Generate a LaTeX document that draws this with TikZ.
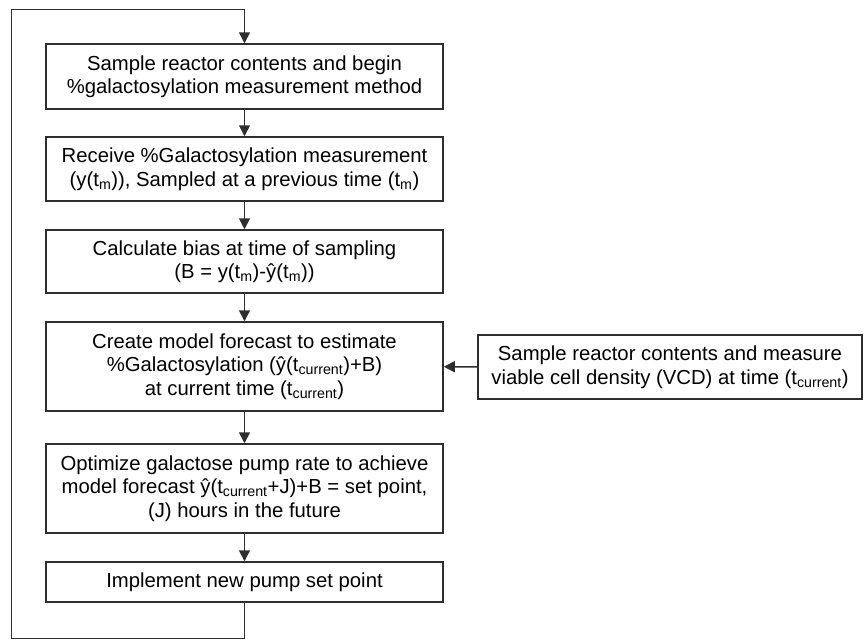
\documentclass[tikz,border=0pt]{standalone}
\usepackage{fontspec}
\setmainfont{Liberation Sans}
\usetikzlibrary{arrows.meta}
\definecolor{linecol}{gray}{0.18}
\newcommand{\sbs}[1]{\textsubscript{#1}}
\begin{document}
\begin{tikzpicture}[x=1pt,y=-1pt,
  box/.style={draw=linecol, line width=1.5pt, inner sep=0pt, align=center,
    font=\fontsize{20.3}{23.5}\selectfont, text=black},
  arr/.style={draw=linecol, line width=1.5pt, -{Triangle[width=11pt,length=11pt]}}]
\useasboundingbox (0,0) rectangle (864,640);
\node[box, minimum width=397pt, minimum height=65pt] (b1) at (244.5,76.5)
  {Sample reactor contents and begin\\\%galactosylation measurement method};
\node[box, minimum width=397pt, minimum height=64pt] (b2) at (244.5,169)
  {Receive \%Galactosylation measurement\\(y(t\sbs{m})), Sampled at a previous time (t\sbs{m})};
\node[box, minimum width=397pt, minimum height=63pt] (b3) at (244.5,261.5)
  {Calculate bias at time of sampling\\(B = y(t\sbs{m})-ŷ(t\sbs{m}))};
\node[box, minimum width=397pt, minimum height=89pt] (b4) at (244.5,366.5)
  {Create model forecast to estimate\\\%Galactosylation (ŷ(t\sbs{current})+B)\\at current time (t\sbs{current})};
\node[box, minimum width=397pt, minimum height=89pt] (b5) at (244.5,488.5)
  {Optimize galactose pump rate to achieve\\model forecast ŷ(t\sbs{current}+J)+B = set point,\\(J) hours in the future};
\node[box, minimum width=397pt, minimum height=40pt] (b6) at (244.5,582)
  {Implement new pump set point};
\node[box, minimum width=384pt, minimum height=64pt] (r) at (670,367)
  {Sample reactor contents and measure\\viable cell density (VCD) at time (t\sbs{current})};
\coordinate (lb) at (11.7,638.5);
\coordinate (lt) at (11.7,9.3);
\draw[arr] (b1) -- (b2);
\draw[arr] (b2) -- (b3);
\draw[arr] (b3) -- (b4);
\draw[arr] (b4) -- (b5);
\draw[arr] (b5) -- (b6);
\draw[arr] (r) -- (b4);
\draw[arr] (b6.south) |- (lb) |- (lt) -| (b1.north);
\end{tikzpicture}
\end{document}
